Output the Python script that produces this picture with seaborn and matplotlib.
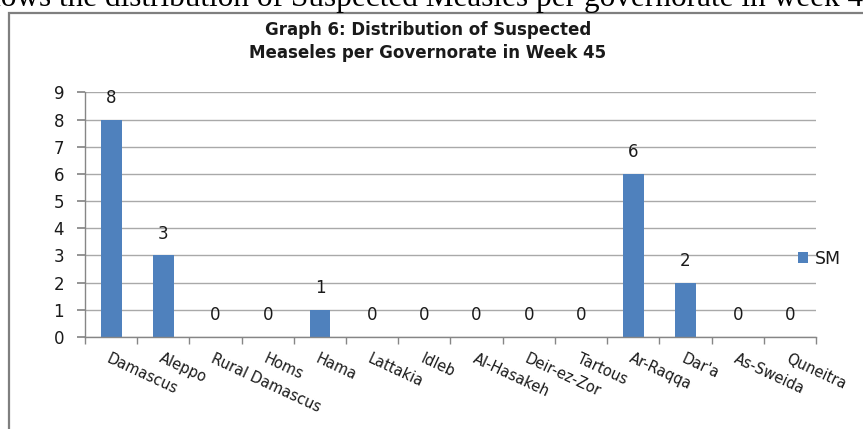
import numpy as np
import pandas as pd
import seaborn as sns
import matplotlib.pyplot as plt
from matplotlib.patches import Rectangle

# Data --------------------------------------------------------------------

governorates = ["Damascus", "Aleppo", "Rural Damascus", "Homs", "Hama",
                "Lattakia", "Idleb", "Al-Hasakeh", "Deir-ez-Zor", "Tartous",
                "Ar-Raqqa", "Dar'a", "As-Sweida", "Quneitra"]
sm_cases = [8, 3, 0, 0, 1, 0, 0, 0, 0, 0, 6, 2, 0, 0]
y_ticks = list(range(0, 10))

df = pd.DataFrame({"gov": governorates, "sm": sm_cases})

# Style -------------------------------------------------------------------

sns.set_theme(style="white")
plt.rcParams["font.family"] = ["DejaVu Sans"]

grid_grey = "#a9a9a9"
axis_grey = "#868686"
blue = "#4F81BD"
ink = "#1a1a1a"

fig = plt.figure(figsize=(8.63, 4.29), dpi=100)
ax = fig.add_axes([0.0985, 0.2145, 0.847, 0.570])

sns.barplot(data=df, x="gov", y="sm", color=blue, width=0.4,
            saturation=1, linewidth=0, label="SM", ax=ax)

ax.set_ylim(0, 9)
ax.set_xlim(-0.5, len(governorates) - 0.5)
ax.set_yticks(y_ticks)
ax.yaxis.grid(True, color=grid_grey, lw=1)
ax.set_axisbelow(True)
ax.set_xlabel("")
ax.set_ylabel("")

for side in ["top", "right"]:
    ax.spines[side].set_visible(False)
for side in ["left", "bottom"]:
    ax.spines[side].set_color(axis_grey)
    ax.spines[side].set_linewidth(1)

ax.tick_params(axis="y", left=True, length=6, color=axis_grey, direction="out",
               labelsize=12, pad=9, labelcolor=ink)

ax.set_xticks(range(len(governorates)))
ax.set_xticklabels(governorates, rotation=-25, ha="left", va="top",
                   rotation_mode="anchor")
ax.set_xticks(np.arange(-0.5, len(governorates), 1), minor=True)
ax.tick_params(axis="x", which="major", bottom=True, length=0, pad=10,
               labelsize=10.5, labelcolor=ink)
ax.tick_params(axis="x", which="minor", bottom=True, length=5,
               color=axis_grey, direction="out")

ax.bar_label(ax.containers[0], padding=9, fontsize=12, color=ink)

ax.legend(loc="center left", bbox_to_anchor=(798 / 863, 1 - 259 / 429),
          bbox_transform=fig.transFigure, frameon=False, fontsize=12.5,
          handlelength=0.6, handleheight=0.6, handletextpad=0.35,
          borderpad=0, borderaxespad=0, labelcolor=ink)

# titulo e moldura
fig.text(428 / 863, 1 - 30 / 429, "Graph 6: Distribution of Suspected",
         ha="center", va="center", fontsize=12, fontweight="bold", color=ink)
fig.text(428 / 863, 1 - 53 / 429, "Measeles per Governorate in Week 45",
         ha="center", va="center", fontsize=12, fontweight="bold", color=ink)

fig.add_artist(Rectangle((9 / 863, -0.1), 1.2, (429 - 13) / 429 + 0.1,
                         transform=fig.transFigure, fill=False,
                         edgecolor="#7f7f7f", lw=1.6))

# texto do documento cortado no topo
fig.text(-27 / 863, 1 - 6 / 429,
         "shows the distribution of Suspected Measles per governorate in week 45",
         ha="left", va="baseline", fontsize=22.5, color="black",
         family=["Liberation Serif", "DejaVu Serif"])

fig.savefig("out.png", dpi=100)
